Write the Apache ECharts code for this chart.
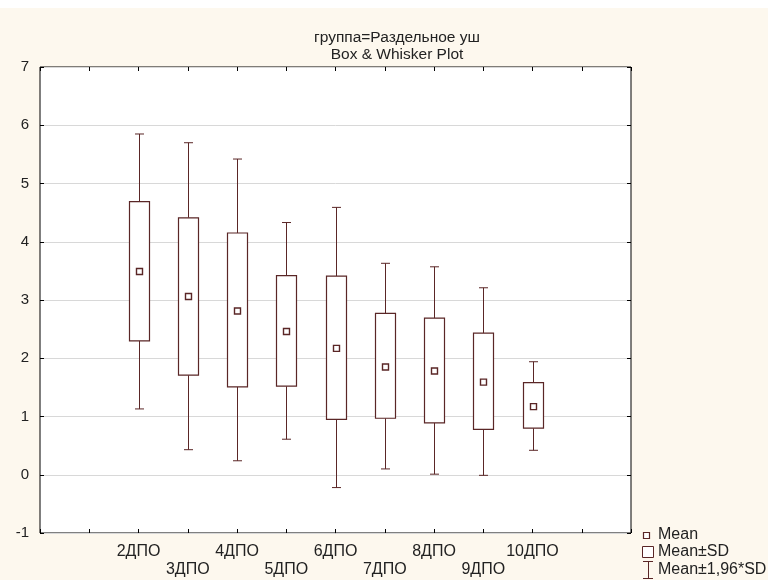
<!DOCTYPE html>
<html>
<head>
<meta charset="utf-8">
<script src="https://cdn.jsdelivr.net/npm/echarts@6/dist/echarts.min.js"></script>
<style>
  html, body { margin: 0; padding: 0; background: #fdf8ee; }
  #chart { width: 768px; height: 580px; }
</style>
</head>
<body>
<div id="chart"></div>
<script>
// категории и их места на оси X
const categories = ['2ДПО', '3ДПО', '4ДПО', '5ДПО', '6ДПО', '7ДПО', '8ДПО', '9ДПО', '10ДПО'];
const xPos = [2, 3, 4, 5, 6, 7, 8, 9, 10];
// Mean, Mean±SD, Mean±1,96*SD
const means = [3.49, 3.06, 2.81, 2.46, 2.17, 1.85, 1.78, 1.59, 1.17];
const sdLow = [2.30, 1.71, 1.51, 1.52, 0.95, 0.97, 0.89, 0.78, 0.80];
const sdHigh = [4.69, 4.41, 4.15, 3.42, 3.41, 2.77, 2.69, 2.43, 1.58];
const ciLow = [1.13, 0.43, 0.24, 0.61, -0.22, 0.10, 0.01, -0.01, 0.42];
const ciHigh = [5.85, 5.70, 5.42, 4.33, 4.59, 3.63, 3.57, 3.21, 1.94];
const yTicks = [-1, 0, 1, 2, 3, 4, 5, 6, 7];

const boxColor = '#5a2626';
const font = 'Arial, "Liberation Sans", sans-serif';

const chart = echarts.init(document.getElementById('chart'));

const data = xPos.map(function (x, i) {
  return [x, ciLow[i], sdLow[i], means[i], sdHigh[i], ciHigh[i]];
});

function renderBox(params, api) {
  const x = api.value(0);
  const pLo = api.coord([x, api.value(1)]);
  const pSdLo = api.coord([x, api.value(2)]);
  const pMean = api.coord([x, api.value(3)]);
  const pSdHi = api.coord([x, api.value(4)]);
  const pHi = api.coord([x, api.value(5)]);
  const cx = Math.round(pMean[0]) + 0.5;
  const boxW = 20, capW = 9, m = 6;
  const lineStyle = { stroke: boxColor, lineWidth: 1 };
  return {
    type: 'group',
    children: [
      { type: 'line', shape: { x1: cx, y1: pHi[1], x2: cx, y2: pSdHi[1] }, style: lineStyle },
      { type: 'line', shape: { x1: cx - capW / 2, y1: pHi[1], x2: cx + capW / 2, y2: pHi[1] }, style: lineStyle },
      { type: 'line', shape: { x1: cx, y1: pSdLo[1], x2: cx, y2: pLo[1] }, style: lineStyle },
      { type: 'line', shape: { x1: cx - capW / 2, y1: pLo[1], x2: cx + capW / 2, y2: pLo[1] }, style: lineStyle },
      {
        type: 'rect',
        shape: { x: cx - boxW / 2, y: pSdHi[1], width: boxW, height: pSdLo[1] - pSdHi[1] },
        style: { fill: '#fff', stroke: boxColor, lineWidth: 1.2 }
      },
      {
        type: 'rect',
        shape: { x: cx - m / 2, y: pMean[1] - m / 2, width: m, height: m },
        style: { fill: '#fff', stroke: boxColor, lineWidth: 1.4 }
      }
    ]
  };
}

const innerTicks = { show: true, inside: true, length: 4, lineStyle: { color: '#000' } };

const option = {
  backgroundColor: '#fdf8ee',
  animation: false,
  title: [
    {
      text: 'группа=Раздельное уш\nBox & Whisker Plot',
      left: 392, top: 24, textAlign: 'center',
      textStyle: { fontFamily: font, fontSize: 15.5, fontWeight: 'normal', color: '#222', lineHeight: 17 }
    }
  ],
  grid: {
    left: 40, right: 137, top: 67, bottom: 47,
    show: true, backgroundColor: '#fff', borderColor: '#000', borderWidth: 1
  },
  xAxis: [
    {
      type: 'value', min: 0, max: 12, interval: 1, position: 'bottom',
      axisLine: { show: false, onZero: false },
      axisTick: innerTicks,
      splitLine: { show: false },
      axisLabel: {
        margin: 10, fontFamily: font, fontSize: 16, color: '#222', lineHeight: 18,
        formatter: function (v) {
          const i = xPos.indexOf(v);
          if (i < 0) return '';
          return (i % 2 === 1 ? '\n' : '') + categories[i];
        }
      }
    },
    {
      type: 'value', min: 0, max: 12, interval: 1, position: 'top',
      axisLine: { show: false, onZero: false }, axisTick: innerTicks,
      axisLabel: { show: false }, splitLine: { show: false }
    }
  ],
  yAxis: [
    {
      type: 'value', min: yTicks[0], max: yTicks[yTicks.length - 1], interval: 1,
      axisLine: { show: false, onZero: false }, axisTick: innerTicks,
      axisLabel: { margin: 11, fontFamily: font, fontSize: 15, color: '#222' },
      splitLine: { show: true, lineStyle: { color: '#d8d8d8', width: 1 } }
    },
    {
      type: 'value', min: yTicks[0], max: yTicks[yTicks.length - 1], interval: 1, position: 'right',
      axisLine: { show: false, onZero: false }, axisTick: innerTicks,
      axisLabel: { show: false }, splitLine: { show: false }
    }
  ],
  graphic: [
    { type: 'rect', shape: { x: 0, y: 0, width: 768, height: 8 }, style: { fill: '#fff' }, silent: true },
    // легенда
    { type: 'rect', shape: { x: 643.5, y: 532.5, width: 6, height: 6 }, style: { fill: '#fff', stroke: boxColor, lineWidth: 1.2 } },
    { type: 'text', left: 658, top: 527, style: { text: 'Mean', font: '16px ' + font, fill: '#222' } },
    { type: 'rect', shape: { x: 642.5, y: 546.5, width: 11, height: 11 }, style: { fill: '#fff', stroke: boxColor, lineWidth: 1 } },
    { type: 'text', left: 658, top: 544, style: { text: 'Mean±SD', font: '16px ' + font, fill: '#222' } },
    { type: 'line', shape: { x1: 643, y1: 561.5, x2: 653, y2: 561.5 }, style: { stroke: boxColor, lineWidth: 1 } },
    { type: 'line', shape: { x1: 648.5, y1: 561.5, x2: 648.5, y2: 578.5 }, style: { stroke: boxColor, lineWidth: 1 } },
    { type: 'line', shape: { x1: 643, y1: 578.5, x2: 653, y2: 578.5 }, style: { stroke: boxColor, lineWidth: 1 } },
    { type: 'text', left: 658, top: 562, style: { text: 'Mean±1,96*SD', font: '16px ' + font, fill: '#222' } }
  ],
  series: [
    {
      type: 'custom',
      xAxisIndex: 0,
      yAxisIndex: 0,
      renderItem: renderBox,
      encode: { x: 0, y: [1, 2, 3, 4, 5] },
      data: data,
      z: 10
    }
  ]
};

chart.setOption(option);
</script>
</body>
</html>
